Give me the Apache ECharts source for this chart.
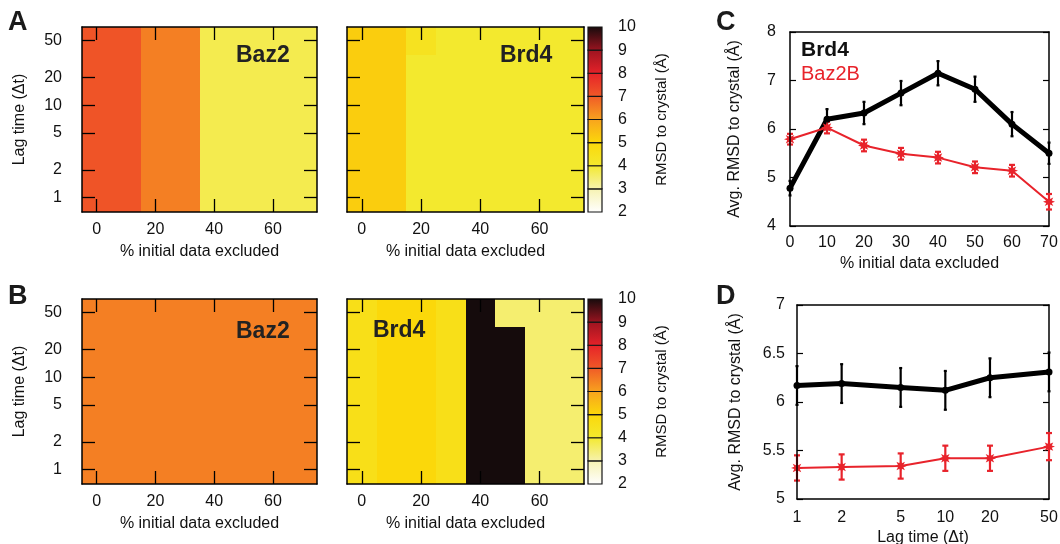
<!DOCTYPE html>
<html>
<head>
<meta charset="utf-8">
<script src="https://cdn.jsdelivr.net/npm/echarts@6/dist/echarts.min.js"></script>
<style>
  html, body { margin: 0; padding: 0; background: #fff; }
  #chart { width: 1060px; height: 544px; }
</style>
</head>
<body>
<div id="chart"></div>
<script>
// ---- data ----
var excluded = [0, 10, 20, 30, 40, 50, 60, 70];      // % initial data excluded
var lagTimes = [1, 2, 5, 10, 20, 50];                  // lag time (dt)
var excludedTicks = [0, 20, 40, 60];
var lagRange = [0.7, 70];

// heatmaps: one row per lag time (1 -> 50), one column per % excluded
var baz2A = [
  [7.1, 7.1, 6.5, 6.5, 3.75, 3.75, 3.75, 3.75],
  [7.1, 7.1, 6.5, 6.5, 3.75, 3.75, 3.75, 3.75],
  [7.1, 7.1, 6.5, 6.5, 3.75, 3.75, 3.75, 3.75],
  [7.1, 7.1, 6.5, 6.5, 3.75, 3.75, 3.75, 3.75],
  [7.1, 7.1, 6.5, 6.5, 3.75, 3.75, 3.75, 3.75],
  [7.1, 7.1, 6.5, 6.5, 3.75, 3.75, 3.75, 3.75]
];
var brd4A = [
  [5.2, 5.2, 4.0, 4.0, 4.0, 4.0, 4.0, 4.0],
  [5.2, 5.2, 4.0, 4.0, 4.0, 4.0, 4.0, 4.0],
  [5.2, 5.2, 4.0, 4.0, 4.0, 4.0, 4.0, 4.0],
  [5.2, 5.2, 4.0, 4.0, 4.0, 4.0, 4.0, 4.0],
  [5.2, 5.2, 4.0, 4.0, 4.0, 4.0, 4.0, 4.0],
  [5.2, 5.2, 4.4, 4.0, 4.0, 4.0, 4.0, 4.0]
];
var baz2B = [
  [6.5, 6.5, 6.5, 6.5, 6.5, 6.5, 6.5, 6.5],
  [6.5, 6.5, 6.5, 6.5, 6.5, 6.5, 6.5, 6.5],
  [6.5, 6.5, 6.5, 6.5, 6.5, 6.5, 6.5, 6.5],
  [6.5, 6.5, 6.5, 6.5, 6.5, 6.5, 6.5, 6.5],
  [6.5, 6.5, 6.5, 6.5, 6.5, 6.5, 6.5, 6.5],
  [6.5, 6.5, 6.5, 6.5, 6.5, 6.5, 6.5, 6.5]
];
var brd4B = [
  [4.6, 5.0, 5.0, 4.6, 10, 10, 3.5, 3.5],
  [4.6, 5.0, 5.0, 4.6, 10, 10, 3.5, 3.5],
  [4.6, 5.0, 5.0, 4.6, 10, 10, 3.5, 3.5],
  [4.6, 5.0, 5.0, 4.6, 10, 10, 3.5, 3.5],
  [4.6, 5.0, 5.0, 4.6, 10, 10, 3.5, 3.5],
  [4.6, 5.0, 5.0, 4.6, 10, 3.5, 3.5, 3.5]
];

// colour scale, one colour per integer level
var levels = [2, 3, 4, 5, 6, 7, 8, 9, 10];
var paletteColors = ['#ffffff', '#f6f2b0', '#f3e92e', '#fbd80a', '#f8a31e',
                     '#f05a27', '#e62229', '#9c1420', '#150b0c'];

// panel C: avg RMSD vs % excluded
var brd4C = [4.78, 6.2, 6.33, 6.74, 7.15, 6.82, 6.1, 5.5];
var brd4CErr = [0.15, 0.21, 0.23, 0.25, 0.25, 0.26, 0.25, 0.22];
var baz2C = [5.79, 6.03, 5.66, 5.49, 5.41, 5.21, 5.14, 4.5];
var baz2CErr = [0.11, 0.12, 0.12, 0.12, 0.12, 0.12, 0.12, 0.16];

// panel D: avg RMSD vs lag time
var brd4D = [6.17, 6.19, 6.15, 6.12, 6.25, 6.31];
var brd4DErr = [0.2, 0.2, 0.2, 0.2, 0.2, 0.2];
var baz2D = [5.32, 5.33, 5.34, 5.42, 5.42, 5.54];
var baz2DErr = [0.13, 0.13, 0.13, 0.13, 0.13, 0.14];

// ---- helpers ----
var FONT = '"Liberation Sans", Arial, Helvetica, sans-serif';
var TXT = '#111';
var RED = '#e8232b';
function LOG(v) { return Math.log(v) / Math.LN10; }
function colorOf(v) {
  var t = (Math.min(Math.max(v, levels[0]), levels[levels.length - 1]) - levels[0]) /
          (levels[levels.length - 1] - levels[0]);
  return echarts.color.lerp(t, paletteColors);
}

var grids = [], xAxes = [], yAxes = [], series = [];
function addGrid(box) {
  box.containLabel = false;
  box.outerBoundsMode = 'none';
  grids.push(box);
  return grids.length - 1;
}
var frameLine = { show: true, onZero: false, lineStyle: { color: '#000', width: 1.5 } };
var noSplit = { show: false };

function cells(matrix) {
  var edges = [lagRange[0]];
  for (var i = 0; i < lagTimes.length - 1; i++) edges.push((lagTimes[i] + lagTimes[i + 1]) / 2);
  edges.push(lagRange[1]);
  var half = (excluded[1] - excluded[0]) / 2;
  var out = [];
  matrix.forEach(function (row, r) {
    row.forEach(function (v, c) {
      out.push([excluded[c] - half, excluded[c] + half, LOG(edges[r]), LOG(edges[r + 1]), v]);
    });
  });
  return out;
}

function heatPanel(box, matrix, withYLabels) {
  var g = addGrid(box);
  var yt = lagTimes.map(LOG);
  var tick = { inside: true, length: 13, lineStyle: { color: '#000', width: 1.3 } };
  var xMin = excluded[0] - 5, xMax = excluded[excluded.length - 1] + 5;
  xAxes.push({
    gridIndex: g, type: 'value', min: xMin, max: xMax, position: 'bottom', z: 10,
    axisLine: frameLine, splitLine: noSplit,
    axisTick: Object.assign({ customValues: excludedTicks }, tick),
    axisLabel: { customValues: excludedTicks, fontSize: 16, color: TXT, margin: 10 },
    name: '% initial data excluded', nameLocation: 'middle', nameGap: 32,
    nameTextStyle: { fontSize: 16, color: TXT }
  });
  var xi = xAxes.length - 1;
  xAxes.push({
    gridIndex: g, type: 'value', min: xMin, max: xMax, position: 'top', z: 10,
    axisLine: frameLine, splitLine: noSplit,
    axisTick: Object.assign({ customValues: excludedTicks }, tick),
    axisLabel: { show: false }
  });
  yAxes.push({
    gridIndex: g, type: 'value', min: LOG(lagRange[0]), max: LOG(lagRange[1]), position: 'left', z: 10,
    axisLine: frameLine, splitLine: noSplit,
    axisTick: Object.assign({ customValues: yt }, tick),
    axisLabel: {
      show: withYLabels, customValues: yt, fontSize: 16, color: TXT, margin: 20,
      formatter: function (v) { return String(Math.round(Math.pow(10, v))); }
    },
    name: withYLabels ? 'Lag time (\u0394t)' : '', nameLocation: 'middle', nameGap: 54,
    nameTextStyle: { fontSize: 16, color: TXT }
  });
  var yi = yAxes.length - 1;
  yAxes.push({
    gridIndex: g, type: 'value', min: LOG(lagRange[0]), max: LOG(lagRange[1]), position: 'right', z: 10,
    axisLine: frameLine, splitLine: noSplit,
    axisTick: Object.assign({ customValues: yt }, tick),
    axisLabel: { show: false }
  });
  series.push({
    type: 'custom', xAxisIndex: xi, yAxisIndex: yi, clip: true, silent: true,
    data: cells(matrix),
    renderItem: function (params, api) {
      // snap to whole pixels so neighbouring cells meet without seams
      var p0 = api.coord([api.value(0), api.value(2)]);
      var p1 = api.coord([api.value(1), api.value(3)]);
      var x0 = Math.round(p0[0]), x1 = Math.round(p1[0]);
      var yb = Math.round(p0[1]), yt2 = Math.round(p1[1]);
      return {
        type: 'rect',
        shape: { x: x0, y: yt2, width: x1 - x0, height: yb - yt2 },
        style: { fill: colorOf(api.value(4)) }
      };
    }
  });
}

function colorbarPanel(box) {
  var g = addGrid(box);
  xAxes.push({ gridIndex: g, type: 'value', min: 0, max: 1, show: false });
  yAxes.push({
    gridIndex: g, type: 'value', min: levels[0], max: levels[levels.length - 1], interval: 1,
    position: 'right', axisLine: { show: false }, axisTick: { show: false }, splitLine: noSplit,
    axisLabel: { fontSize: 16, color: TXT, margin: 16 },
    name: 'RMSD to crystal (\u00c5)', nameLocation: 'middle', nameGap: 52,
    nameTextStyle: { fontSize: 15, color: TXT }
  });
  var bands = [];
  for (var i = 0; i < levels.length - 1; i++) bands.push([levels[i], levels[i + 1]]);
  series.push({
    type: 'custom', xAxisIndex: xAxes.length - 1, yAxisIndex: yAxes.length - 1, silent: true,
    data: bands, encode: { y: [0, 1] },
    renderItem: function (params, api) {
      var lo = api.value(0), hi = api.value(1);
      var p0 = api.coord([0, lo]), p1 = api.coord([1, hi]);
      return {
        type: 'rect',
        shape: { x: p0[0], y: p1[1], width: p1[0] - p0[0], height: p0[1] - p1[1] },
        style: {
          fill: new echarts.graphic.LinearGradient(0, 0, 0, 1, [
            { offset: 0, color: colorOf(hi) }, { offset: 1, color: colorOf(lo) }
          ]),
          stroke: '#151515', lineWidth: 1.2
        }
      };
    }
  });
}

function errorBars(xi, yi, xs, ys, errs, color, width, cap) {
  series.push({
    type: 'custom', xAxisIndex: xi, yAxisIndex: yi, clip: false, silent: true,
    encode: { x: 0, y: [1, 2] },
    data: xs.map(function (x, i) { return [x, ys[i] - errs[i], ys[i] + errs[i]]; }),
    renderItem: function (params, api) {
      var x = api.value(0);
      var lo = api.coord([x, api.value(1)]);
      var hi = api.coord([x, api.value(2)]);
      var st = { stroke: color, lineWidth: width };
      return {
        type: 'group', children: [
          { type: 'line', shape: { x1: lo[0], y1: lo[1], x2: hi[0], y2: hi[1] }, style: st },
          { type: 'line', shape: { x1: lo[0] - cap, y1: lo[1], x2: lo[0] + cap, y2: lo[1] }, style: st },
          { type: 'line', shape: { x1: hi[0] - cap, y1: hi[1], x2: hi[0] + cap, y2: hi[1] }, style: st }
        ]
      };
    }
  });
}

// bold asterisk, like the gnuplot point type used for Baz2B
var starPath = 'path://M10,0 L4.6,1.9 L7.07,7.07 L1.9,4.6 L0,10 L-1.9,4.6 L-7.07,7.07 L-4.6,1.9 ' +
  'L-10,0 L-4.6,-1.9 L-7.07,-7.07 L-1.9,-4.6 L0,-10 L1.9,-4.6 L7.07,-7.07 L4.6,-1.9 Z';

function linePanel(box, xAxisOpt, yAxisOpt, xs, blk, blkErr, red, redErr) {
  var g = addGrid(box);
  var tick = { inside: true, length: 6, lineStyle: { color: '#000', width: 1.2 } };
  xAxes.push(Object.assign({
    gridIndex: g, type: 'value', position: 'bottom', z: 10,
    axisLine: frameLine, splitLine: noSplit, axisTick: { show: false },
    nameLocation: 'middle', nameTextStyle: { fontSize: 16, color: TXT }
  }, xAxisOpt));
  var xi = xAxes.length - 1;
  xAxes.push({ gridIndex: g, type: 'value', position: 'top', min: xAxisOpt.min, max: xAxisOpt.max,
    axisLine: frameLine, axisTick: { show: false }, axisLabel: { show: false }, splitLine: noSplit });
  yAxes.push(Object.assign({
    gridIndex: g, type: 'value', position: 'left', z: 10,
    axisLine: frameLine, splitLine: noSplit, axisTick: tick,
    name: 'Avg. RMSD to crystal (\u00c5)', nameLocation: 'middle',
    nameTextStyle: { fontSize: 16, color: TXT }
  }, yAxisOpt));
  var yi = yAxes.length - 1;
  yAxes.push({ gridIndex: g, type: 'value', position: 'right', min: yAxisOpt.min, max: yAxisOpt.max,
    interval: yAxisOpt.interval, axisLine: frameLine, axisTick: tick, axisLabel: { show: false }, splitLine: noSplit });

  errorBars(xi, yi, xs, blk, blkErr, '#000', 2.2, 1.5);
  series.push({
    type: 'line', xAxisIndex: xi, yAxisIndex: yi, clip: false, silent: true,
    data: xs.map(function (x, i) { return [x, blk[i]]; }),
    symbol: 'circle', symbolSize: 7, showSymbol: true,
    lineStyle: { color: '#000', width: 5 }, itemStyle: { color: '#000' }
  });
  errorBars(xi, yi, xs, red, redErr, RED, 2.2, 3);
  series.push({
    type: 'line', xAxisIndex: xi, yAxisIndex: yi, clip: false, silent: true,
    data: xs.map(function (x, i) { return [x, red[i]]; }),
    symbol: starPath, symbolSize: 12, showSymbol: true,
    lineStyle: { color: RED, width: 2 }, itemStyle: { color: RED }
  });
}

// ---- layout ----
heatPanel({ left: 82, top: 27, width: 235, height: 185 }, baz2A, true);
heatPanel({ left: 347, top: 27, width: 237, height: 185 }, brd4A, false);
colorbarPanel({ left: 588, top: 27, width: 14, height: 185 });
heatPanel({ left: 82, top: 299, width: 235, height: 185 }, baz2B, true);
heatPanel({ left: 347, top: 299, width: 237, height: 185 }, brd4B, false);
colorbarPanel({ left: 588, top: 299, width: 14, height: 185 });

linePanel({ left: 790, top: 32, width: 259, height: 194 },
  { min: 0, max: 70, interval: 10, axisLabel: { fontSize: 16, color: TXT, margin: 9 },
    name: '% initial data excluded', nameGap: 30 },
  { min: 4, max: 8, interval: 1, axisLabel: { fontSize: 16, color: TXT, margin: 14 }, nameGap: 47 },
  excluded, brd4C, brd4CErr, baz2C, baz2CErr);

var lagLog = lagTimes.map(LOG);
linePanel({ left: 797, top: 305, width: 252, height: 194 },
  { min: 0, max: LOG(lagTimes[lagTimes.length - 1]),
    axisLabel: { customValues: lagLog, fontSize: 16, color: TXT, margin: 11,
      formatter: function (v) { return String(Math.round(Math.pow(10, v))); } },
    name: 'Lag time (\u0394t)', nameGap: 31 },
  { min: 5, max: 7, interval: 0.5, axisLabel: { fontSize: 16, color: TXT, margin: 12 }, nameGap: 53 },
  lagLog, brd4D, brd4DErr, baz2D, baz2DErr);

function label(text, x, y, size, bold, color) {
  return {
    type: 'text', left: x, top: y - size * 0.6, z: 100, silent: true,
    style: { text: text, fill: color || '#222', font: (bold ? 'bold ' : '') + size + 'px ' + FONT }
  };
}

var chart = echarts.init(document.getElementById('chart'));
chart.setOption({
  animation: false,
  textStyle: { fontFamily: FONT },
  grid: grids,
  xAxis: xAxes,
  yAxis: yAxes,
  series: series,
  graphic: [
    label('A', 8, 25, 27, true, '#1a1a1a'),
    label('B', 8, 299, 27, true, '#1a1a1a'),
    label('C', 716, 25, 27, true, '#1a1a1a'),
    label('D', 716, 299, 27, true, '#1a1a1a'),
    label('Baz2', 236, 58, 23, true),
    label('Brd4', 500, 58, 23, true),
    label('Baz2', 236, 334, 23, true),
    label('Brd4', 373, 333, 23, true),
    label('Brd4', 801, 52, 21, true, '#111'),
    label('Baz2B', 801, 76, 20, false, RED)
  ]
});
</script>
</body>
</html>
